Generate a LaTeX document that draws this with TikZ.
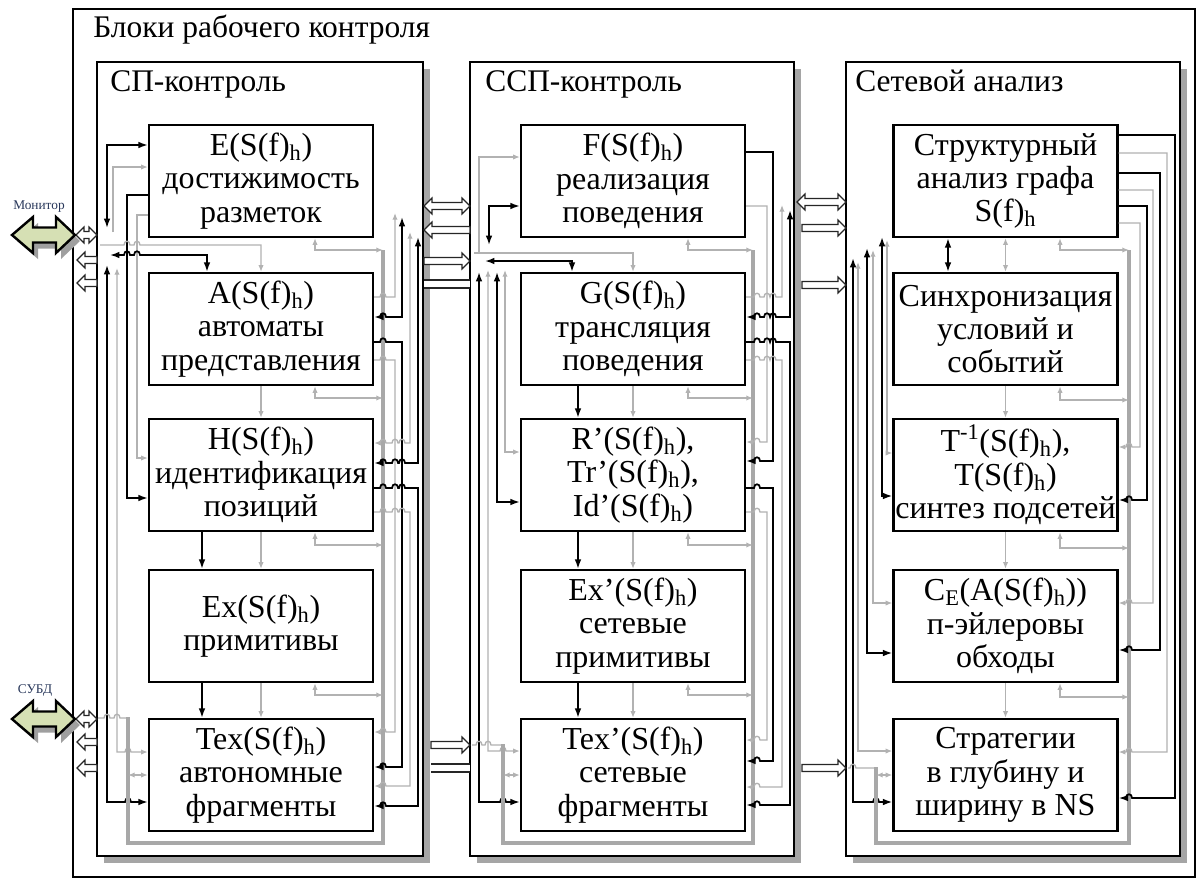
\documentclass[tikz,border=0pt]{standalone}
\usepackage{fontspec}
\setmainfont{Liberation Serif}
\usetikzlibrary{arrows.meta}
\definecolor{lgray}{RGB}{178,178,178}
\definecolor{bgray}{RGB}{168,168,168}
\definecolor{shgray}{RGB}{165,165,165}
\definecolor{mongreen}{RGB}{214,224,180}
\definecolor{lblue}{RGB}{40,55,90}
% hollow arrows: x-start, x-end, y
\newcommand\hollowR[3]{\draw[hol] (#1,{#3-3.5}) -- ({#2-8},{#3-3.5}) -- ({#2-8},{#3-8}) -- (#2,#3) -- ({#2-8},{#3+8}) -- ({#2-8},{#3+3.5}) -- (#1,{#3+3.5}) -- cycle;}
\newcommand\hollowL[3]{\draw[hol] (#2,{#3-3.5}) -- ({#1+8},{#3-3.5}) -- ({#1+8},{#3-8}) -- (#1,#3) -- ({#1+8},{#3+8}) -- ({#1+8},{#3+3.5}) -- (#2,{#3+3.5}) -- cycle;}
\newcommand\hollowD[3]{\draw[hol] ({#1+8},{#3-3.5}) -- ({#2-8},{#3-3.5}) -- ({#2-8},{#3-8}) -- (#2,#3) -- ({#2-8},{#3+8}) -- ({#2-8},{#3+3.5}) -- ({#1+8},{#3+3.5}) -- ({#1+8},{#3+8}) -- (#1,#3) -- ({#1+8},{#3-8}) -- cycle;}
% big green double arrow centred at y
\newcommand\bigArrow[1]{%
  \fill[gray!75] (17,{#1+6}) -- (38,{#1-12}) -- (38,{#1-1.5}) -- (61,{#1-1.5}) -- (61,{#1-12}) -- (80,{#1+6}) -- (61,{#1+24}) -- (61,{#1+13.5}) -- (38,{#1+13.5}) -- (38,{#1+24}) -- cycle;
  \draw[line width=1.8pt,fill=mongreen,line join=miter] (12,#1) -- (33,{#1-18}) -- (33,{#1-7.5}) -- (56,{#1-7.5}) -- (56,{#1-18}) -- (75,#1) -- (56,{#1+18}) -- (56,{#1+7.5}) -- (33,{#1+7.5}) -- (33,{#1+18}) -- cycle;}
\begin{document}
\begin{tikzpicture}[x=0.75pt,y=-0.75pt,
  box/.style={draw,line width=1.8pt,fill=white,minimum width=168pt,minimum height=84pt,inner sep=0pt,align=center,font=\fontsize{24}{25}\selectfont},
  ttl/.style={anchor=base west,inner sep=0pt,font=\fontsize{23.6}{25}\selectfont},
  bl/.style={line width=1.3pt,black,>={Latex[length=7pt,width=5pt]}},
  gl/.style={line width=1pt,lgray,>={Latex[length=5pt,width=4pt]}},
  bus/.style={line width=3pt,bgray},
  frame/.style={line width=1.8pt,fill=white},
  hol/.style={draw=black!85,line width=0.9pt,fill=white,line join=miter},
  jr/.style 2 args={insert path={-- ({#1-3},#2) .. controls ({#1-3},{#2-5}) and ({#1+3},{#2-5}) .. ({#1+3},#2)}},
  jl/.style 2 args={insert path={-- ({#1+3},#2) .. controls ({#1+3},{#2-5}) and ({#1-3},{#2-5}) .. ({#1-3},#2)}},
  lbl/.style={inner sep=0pt,text=lblue,font=\fontsize{10}{11}\selectfont},
  dline/.style={double,double distance=5pt,line width=0.9pt,draw=black!85}
]
\useasboundingbox (0,0) rectangle (1198,881);
% outer frame
\draw[line width=1.2pt] (73,9) rectangle (1195,877);
\node[ttl] (t0) at (93,38) {Блоки рабочего контроля};
% column frames with shadows
\fill[shgray] (104,69) rectangle (430,863);
\draw[frame] (97,62) rectangle (423,856);
\fill[shgray] (477,69) rectangle (801,863);
\draw[frame] (470,62) rectangle (794,856);
\fill[shgray] (853,69) rectangle (1187,863);
\draw[frame] (846,62) rectangle (1180,856);
\node[ttl] (t1) at (110,91) {СП-контроль};
\node[ttl] (t2) at (485,91) {ССП-контроль};
\node[ttl] (t3) at (855,91) {Сетевой анализ};
% boxes left
\node[box] (E) at (261,181) {E(S(f)\textsubscript{h})\\достижимость\\разметок};
\node[box] (A) at (261,329) {A(S(f)\textsubscript{h})\\автоматы\\представления};
\node[box] (H) at (261,475) {H(S(f)\textsubscript{h})\\идентификация\\позиций};
\node[box] (Ex) at (261,626) {Ex(S(f)\textsubscript{h})\\примитивы};
\node[box] (Tex) at (261,775) {Tex(S(f)\textsubscript{h})\\автономные\\фрагменты};
% boxes middle
\node[box] (F) at (633,181) {F(S(f)\textsubscript{h})\\реализация\\поведения};
\node[box] (G) at (633,329) {G(S(f)\textsubscript{h})\\трансляция\\поведения};
\node[box] (Rp) at (633,475) {R’(S(f)\textsubscript{h}),\\Tr’(S(f)\textsubscript{h}),\\Id’(S(f)\textsubscript{h})};
\node[box] (Exp) at (633,626) {Ex’(S(f)\textsubscript{h})\\сетевые\\примитивы};
\node[box] (Texp) at (633,775) {Tex’(S(f)\textsubscript{h})\\сетевые\\фрагменты};
% boxes right
\node[box] (S) at (1005.5,181) {Структурный\\анализ графа\\S(f)\textsubscript{h}};
\node[box] (Sy) at (1005.5,329) {Синхронизация\\условий и\\событий};
\node[box] (T) at (1005.5,475) {T\textsuperscript{-1}(S(f)\textsubscript{h}),\\T(S(f)\textsubscript{h})\\синтез подсетей};
\node[box] (C) at (1005.5,626) {C\textsubscript{E}(A(S(f)\textsubscript{h}))\\п-эйлеровы\\обходы};
\node[box] (St) at (1005.5,775) {Стратегии\\в глубину и\\ширину в NS};

% ================= LEFT COLUMN =================
\draw[bl,<->] (107,228) -- (107,145) -- (E.west|-0,145);
\draw[gl,->] (113,232) -- (113,167) -- (E.west|-0,167);
\draw[bl,->] (E.west|-0,195) -- (127,195) -- (127,498) -- (H.west|-0,498);
\draw[gl,->] (E.west|-0,215) -- (137,215) -- (137,458) -- (H.west|-0,458);
\draw[gl,->] (100,245) [jr={127}{245}] [jr={137}{245}] -- (261,245) -- (A.north);
\draw[bl,<->] (110,255) [jr={127}{255}] [jr={137}{255}] -- (207,255) -- (A.north-|207,0);
\draw[bl,<->] (107,265) -- (107,802) [jr={128}{802}] -- (Tex.west|-0,802);
\draw[gl,<->] (117,268) -- (117,752) [jr={128}{752}] -- (Tex.west|-0,752);
\draw[gl] (98,718) [jr={107}{718}] [jr={117}{718}] -- (128,718);
\draw[bus] (128,717) -- (128,843) -- (383,843) -- (383,250);
\draw[gl,<->] (128,775) -- (Tex.west|-0,775);
\draw[gl,->] (A.south) -- (H.north);
\draw[gl,->] (H.south) -- (Ex.north);
\draw[gl,->] (Ex.south) -- (Tex.north);
\draw[bl,->] (H.south-|202,0) -- (Ex.north-|202,0);
\draw[bl,->] (Ex.south-|202,0) -- (Tex.north-|202,0);
\foreach \b/\y in {E/250,A/398,H/545,Ex/695}
  \draw[gl,<->] (\b.south-|315,0) -- (315,\y) -- (383,\y);
\draw[gl,->] (A.east|-0,297) [jr={383}{297}] -- (395,297) -- (395,213);
\draw[bl,<->] (402,217) -- (402,317) [jl={383}{317}] -- (A.east|-0,317);
\draw[bl,->] (A.east|-0,342) [jr={383}{342}] -- (402,342) -- (402,767) [jl={383}{767}] -- (Tex.east|-0,767);
\draw[gl,->] (A.east|-0,360) [jr={383}{360}] -- (395,360) -- (395,732) [jl={383}{732}] -- (Tex.east|-0,732);
\draw[gl,<->] (410,232) -- (410,443) [jl={402}{443}] [jl={395}{443}] [jl={383}{443}] -- (H.east|-0,443);
\draw[bl,<->] (418,237) -- (418,463) [jl={402}{463}] [jl={395}{463}] [jl={383}{463}] -- (H.east|-0,463);
\draw[bl,->] (H.east|-0,488) [jr={383}{488}] [jr={395}{488}] [jr={402}{488}] -- (418,488) -- (418,806) [jl={383}{806}] -- (Tex.east|-0,806);
\draw[gl,->] (H.east|-0,512) [jr={383}{512}] [jr={395}{512}] [jr={402}{512}] -- (410,512) -- (410,786) [jl={383}{786}] -- (Tex.east|-0,786);

% ================= MIDDLE COLUMN =================
\draw[gl,->] (479,252) -- (479,157) -- (F.west|-0,157);
\draw[bl,<->] (489,245) -- (489,206) -- (F.west|-0,206);
\draw[gl,->] (474,253) -- (633,253) -- (G.north);
\draw[bl,<->] (485,261) -- (572,261) -- (G.north-|572,0);
\draw[bl,<->] (479,272) -- (479,802) [jr={503}{802}] -- (Texp.west|-0,802);
\draw[gl,<->] (488,270) -- (488,751) [jr={503}{751}] -- (Texp.west|-0,751);
\draw[bl,<->] (497,272) -- (497,502) -- (Rp.west|-0,502);
\draw[gl,<->] (505,270) -- (505,452) -- (Rp.west|-0,452);
\draw[gl] (472,745) [jr={479}{745}] [jr={488}{745}] -- (503,745);
\draw[bus] (503,744) -- (503,843) -- (753,843) -- (753,250);
\draw[gl,<->] (503,775) -- (Texp.west|-0,775);
\draw[gl,->] (G.south) -- (Rp.north);
\draw[gl,->] (Rp.south) -- (Exp.north);
\draw[gl,->] (Exp.south) -- (Texp.north);
\draw[bl,->] (G.south-|578,0) -- (Rp.north-|578,0);
\draw[bl,->] (Rp.south-|578,0) -- (Exp.north-|578,0);
\draw[bl,->] (Exp.south-|578,0) -- (Texp.north-|578,0);
\foreach \b/\y in {F/250,G/398,Rp/545,Exp/695}
  \draw[gl,<->] (\b.south-|688,0) -- (688,\y) -- (753,\y);
\draw[bl,->] (F.east|-0,152) -- (773,152) -- (773,461) [jl={757}{461}] -- (Rp.east|-0,461);
\draw[gl,->] (F.east|-0,206) -- (767,206) -- (767,442) [jl={757}{442}] -- (Rp.east|-0,442);
\draw[gl,->] (G.east|-0,297) [jr={757}{297}] [jr={767}{297}] [jr={773}{297}] -- (782,297) -- (782,205);
\draw[bl,<->] (790,210) -- (790,317) [jl={773}{317}] [jl={767}{317}] [jl={757}{317}] -- (G.east|-0,317);
\draw[bl,->] (G.east|-0,342) [jr={757}{342}] [jr={767}{342}] [jr={773}{342}] -- (790,342) -- (790,805) [jl={757}{805}] -- (Texp.east|-0,805);
\draw[gl,->] (G.east|-0,360) [jr={757}{360}] [jr={767}{360}] [jr={773}{360}] -- (782,360) -- (782,787) [jl={757}{787}] -- (Texp.east|-0,787);
\draw[bl,->] (Rp.east|-0,488) [jr={757}{488}] -- (773,488) -- (773,761) [jl={757}{761}] -- (Texp.east|-0,761);
\draw[gl,->] (Rp.east|-0,512) [jr={757}{512}] -- (767,512) -- (767,740) [jl={757}{740}] -- (Texp.east|-0,740);

% ================= RIGHT COLUMN =================
\draw[bl,<->] (882,237) -- (882,496) -- (T.west|-0,496);
\draw[gl,<->] (887,240) -- (887,453) -- (T.west|-0,453);
\draw[bl,<->] (867,248) -- (867,653) -- (C.west|-0,653);
\draw[gl,<->] (873,250) -- (873,603) -- (C.west|-0,603);
\draw[bl,<->] (853,258) -- (853,802) [jr={876}{802}] -- (St.west|-0,802);
\draw[gl,<->] (858,262) -- (858,751) -- (St.west|-0,751);
\draw[gl] (848,768) [jr={853}{768}] -- (876,768);
\draw[bus] (876,767) -- (876,843) -- (1129,843) -- (1129,250);
\draw[gl,<->] (876,775) -- (St.west|-0,775);
\draw[bl,<->] (S.south-|948,0) -- (Sy.north-|948,0);
\draw[gl,<->] (S.south) -- (Sy.north);
\draw[gl,->] (Sy.south) -- (T.north);
\draw[gl,->] (T.south) -- (C.north);
\draw[gl,->] (C.south) -- (St.north);
\foreach \b/\y in {S/250,Sy/400,T/548,C/697}
  \draw[gl,<->] (\b.south-|1060,0) -- (1060,\y) -- (1129,\y);
\draw[bl,->] (S.east|-0,135) -- (1175,135) -- (1175,798) [jl={1129}{798}] -- (St.east|-0,798);
\draw[gl,->] (S.east|-0,153) -- (1167,153) -- (1167,752) [jl={1129}{752}] -- (St.east|-0,752);
\draw[bl,->] (S.east|-0,173) -- (1160,173) -- (1160,650) [jl={1129}{650}] -- (C.east|-0,650);
\draw[gl,->] (S.east|-0,190) -- (1153,190) -- (1153,603) [jl={1129}{603}] -- (C.east|-0,603);
\draw[bl,->] (S.east|-0,206) -- (1147,206) -- (1147,500) [jl={1129}{500}] -- (T.east|-0,500);
\draw[gl,->] (S.east|-0,223) -- (1140,223) -- (1140,447) [jl={1129}{447}] -- (T.east|-0,447);

% ================= HOLLOW ARROWS =================
\hollowD{76}{97}{235}
\hollowL{77}{97}{260}
\hollowL{77}{97}{283}
\hollowD{76}{97}{719}
\hollowL{77}{97}{742}
\hollowL{77}{97}{768}
\hollowD{424}{470}{206}
\hollowL{424}{470}{230}
\hollowR{424}{470}{261}
\coordinate (d1a) at (424,284); \coordinate (d1b) at (470,284);
\draw[dline] (d1a) -- (d1b);
\hollowR{431}{470}{745}
\coordinate (d2a) at (431,768); \coordinate (d2b) at (470,768);
\draw[dline] (d2a) -- (d2b);
\hollowD{797}{846}{202}
\hollowR{802}{846}{228}
\hollowR{802}{846}{285}
\hollowR{802}{846}{768}

% ================= BIG ARROWS =================
\bigArrow{235}
\node[lbl] (monl) at (39,207) {Монитор};
\bigArrow{719}
\node[lbl] (dbl) at (35,690) {СУБД};
\end{tikzpicture}
\end{document}
